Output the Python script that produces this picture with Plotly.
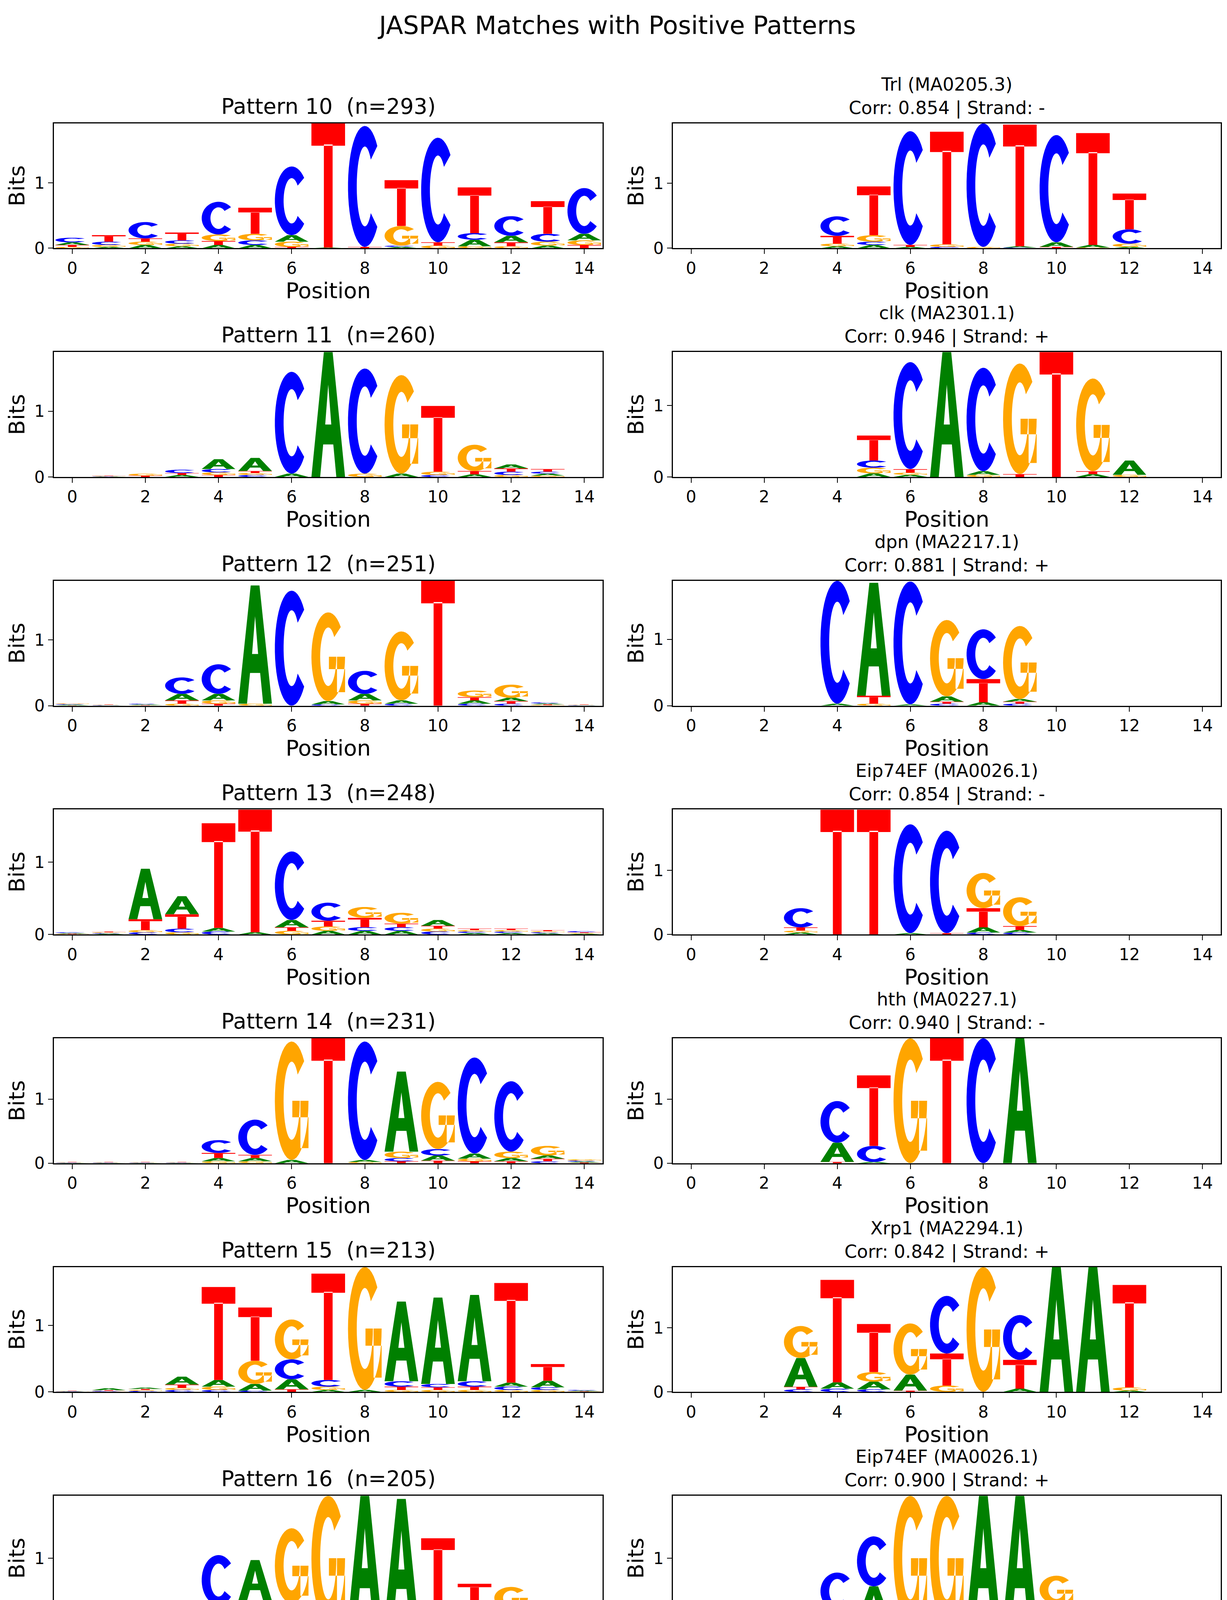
import numpy as np
import plotly.graph_objects as go
from plotly.subplots import make_subplots

LETTERS = ["A", "C", "G", "T"]
COLORS = {"A": "#008000", "C": "#0000ff", "G": "#ffa500", "T": "#ff0000"}
POSITIONS = list(range(15))
X_TICKS = [0, 2, 4, 6, 8, 10, 12, 14]

# ---------- per-panel letter heights (bits) ----------
p10 = {"A": [.04,.02,.05,.03,.05,.05,.10,.01,0,.02,0,.10,.10,.04,.10],
       "C": [.07,.05,.25,.05,.50,.07,1.05,0,1.85,.02,1.6,.10,.30,.12,.70],
       "G": [.02,.03,.05,.04,.10,.10,.08,0,0,.30,.04,.03,.03,.06,.07],
       "T": [.03,.10,.05,.12,.06,.40,.02,1.9,.02,.70,.05,.70,.06,.50,.05]}
m10 = {"A": [0,0,0,0,.03,.05,.02,0,0,.02,.07,.04,.02,0,0],
       "C": [0,0,0,0,.30,.05,1.75,.02,1.9,.01,1.65,0,.22,0,0],
       "G": [0,0,0,0,.04,.10,0,.04,.02,0,0,.01,.05,0,0],
       "T": [0,0,0,0,.12,.75,.03,1.73,0,1.87,.02,1.72,.55,0,0]}
p11 = {"A": [0,.005,0,.03,.15,.20,.05,1.9,0,.05,0,.04,.06,.03,.003],
       "C": [0,.005,0,.05,.05,.03,1.55,0,1.6,0,.03,0,.05,.03,.003],
       "G": [0,.005,.03,0,.04,.03,0,0,.05,1.5,.05,.40,.03,.02,.003],
       "T": [0,.005,.02,.03,.03,.03,0,0,0,0,1.0,.05,.05,.04,.003]}
m11 = {"A": [0,0,0,0,0,.05,.03,1.75,.05,0,0,.04,.20,0,0],
       "C": [0,0,0,0,0,.10,1.5,0,1.45,0,0,0,0,0,0],
       "G": [0,0,0,0,0,.08,.03,0,.03,1.55,0,1.3,.03,0,0],
       "T": [0,0,0,0,0,.35,.05,0,0,.04,1.75,.04,0,0,0]}
p12 = {"A": [.01,.005,.01,.10,.10,1.8,0,.05,.10,.05,0,.05,.05,.015,.005],
       "C": [.01,.005,.01,.25,.45,0,1.75,.02,.35,.03,0,.03,.03,.015,.005],
       "G": [.01,.005,.005,.03,.05,.03,0,1.35,.05,1.05,0,.10,.20,.01,.005],
       "T": [.005,.005,.005,.05,.03,0,0,0,.03,0,1.9,.05,.04,.01,.005]}
m12 = {"A": [0,0,0,0,.03,1.7,.02,.08,.05,.04,0,0,0,0,0],
       "C": [0,0,0,0,1.85,0,1.85,.03,.75,.03,0,0,0,0,0],
       "G": [0,0,0,0,0,.03,0,1.15,0,1.1,0,0,0,0,0],
       "T": [0,0,0,0,0,.12,0,.03,.35,.03,0,0,0,0,0]}
p13 = {"A": [.01,.01,.70,.25,.05,.03,.10,.05,.05,.05,.08,.02,.02,.015,.01],
       "C": [.01,.01,.03,.05,.04,0,.95,.25,.05,.05,.04,.02,.02,.015,.015],
       "G": [.005,.01,.03,.03,0,0,.05,.06,.15,.15,.04,.02,.02,.015,.01],
       "T": [.005,.01,.15,.20,1.45,1.7,.05,.08,.13,.05,.04,.02,.02,.015,.01]}
m13 = {"A": [0,0,0,.03,0,0,.02,0,.08,.04,0,0,0,0,0],
       "C": [0,0,0,.30,0,0,1.7,1.6,.03,.03,0,0,0,0,0],
       "G": [0,0,0,.03,0,0,0,0,.55,.45,0,0,0,0,0],
       "T": [0,0,0,.05,1.95,1.95,0,.02,.30,.06,0,0,0,0,0]}
p14 = {"A": [.005,.005,.005,.005,.05,.05,.05,0,.03,1.25,.08,.08,.05,.05,.015],
       "C": [.005,.005,.005,.005,.20,.55,0,0,1.85,.05,.10,1.5,1.1,.03,.015],
       "G": [.005,.005,.005,.005,.03,.03,1.85,0,.02,.10,1.05,.04,.10,.15,.02],
       "T": [.005,.005,.005,.005,.08,.05,0,1.95,0,.03,.04,.03,.03,.04,.01]}
m14 = {"A": [0,0,0,0,.30,.02,0,0,0,1.95,0,0,0,0,0],
       "C": [0,0,0,0,.65,.25,0,0,1.95,0,0,0,0,0,0],
       "G": [0,0,0,0,0,0,1.95,0,0,0,0,0,0,0,0],
       "T": [0,0,0,0,.02,1.1,0,1.95,0,0,0,0,0,0,0]}
p15 = {"A": [.005,.03,.02,.12,.10,.10,.15,.03,.03,1.2,1.3,1.3,.06,.10,.01],
       "C": [.005,.01,.015,.03,.03,.02,.30,.10,0,.08,.05,.08,.05,.04,.01],
       "G": [.005,.005,.015,.03,.05,.35,.60,.05,1.85,.03,.03,.03,.03,.03,.005],
       "T": [.005,.01,.015,.05,1.4,.80,.04,1.6,0,.05,.04,.05,1.5,.25,.005]}
m15 = {"A": [0,0,0,.45,.10,.12,.25,0,0,.05,1.95,1.95,.02,0,0],
       "C": [0,0,0,.04,.05,.04,0,.90,0,.70,0,0,0,0,0],
       "G": [0,0,0,.50,0,.15,.80,.10,1.95,0,0,0,.05,0,0],
       "T": [0,0,0,.04,1.6,.75,.02,.50,0,.45,0,0,1.6,0,0]}
p16 = {"A": [.01,.005,.005,.10,.02,.65,.03,0,2.0,1.95,.15,.20,.10,.005,.005],
       "C": [.01,.005,0,.03,.80,.05,.25,0,0,0,.02,.03,.06,.005,.005],
       "G": [.005,.005,.005,.04,.03,.25,1.2,2.0,0,0,.10,.06,.35,.005,.005],
       "T": [.005,.005,0,.02,.20,.02,0,0,0,0,1.05,.30,.03,.005,.005]}
m16 = {"A": [0,0,0,0,.07,.55,0,0,2.0,2.0,.20,0,0,0,0],
       "C": [0,0,0,0,.60,.80,0,0,0,0,.04,0,0,0,0],
       "G": [0,0,0,0,.08,0,2.0,2.0,0,0,.45,0,0,0,0],
       "T": [0,0,0,0,.02,0,0,0,0,0,.03,0,0,0,0]}
p17 = {"A": [.005,.005,.005,.02,.15,.05,.05,.20,0,.05,0,0,.40,.04,.015],
       "C": [.005,.005,.005,.01,.05,.10,.10,.03,1.25,0,0,.01,.05,.25,.015],
       "G": [.005,.005,.005,.03,.05,.05,.35,.40,.04,1.45,0,1.9,.05,.04,.015],
       "T": [.005,.01,.005,.01,.03,.85,.03,.05,.05,0,1.95,0,.10,.25,.015]}
m17 = {"A": [0,0,0,0,.03,.03,1.1,0,0,.05,0,.15,.02,0,0],
       "C": [0,0,0,0,.12,.05,.02,1.45,0,0,.15,.03,.03,0,0],
       "G": [0,0,0,0,.05,.45,.10,.03,1.75,0,0,1.15,.30,0,0],
       "T": [0,0,0,0,.65,.15,.03,.10,0,0,1.2,.05,.25,0,0]}
p18 = {"A": [.15,.10,.05,.05,.05,.15,.05,.05,.05,1.85,1.5,.10,.10,.02,.015],
       "C": [.03,.03,0,.15,1.05,.30,.03,.05,0,0,0,.03,.03,.02,.01],
       "G": [.05,.05,0,.05,.03,.05,.03,.08,1.6,0,.05,.05,.05,.02,.015],
       "T": [.10,.20,1.8,.60,.10,.08,.05,.06,0,0,0,.30,.35,.02,.01]}
m18 = {"A": [.85,.35,0,.03,0,.15,0,.15,.05,1.9,1.7,.25,0,0,0],
       "C": [0,0,0,0,1.15,.35,0,0,0,0,0,0,0,0,0],
       "G": [.07,.05,.03,0,0,.03,0,.45,1.6,0,.02,.05,0,0,0],
       "T": [.05,.05,1.7,1.6,.05,.10,0,.05,0,0,0,.02,0,0,0]}
p19 = {"A": [.01,.005,.005,.01,.03,.09,.03,.02,0,1.94,0,1.94,0,.10,.03],
       "C": [.01,.005,.005,.005,.02,.60,.01,.15,2.0,0,.02,.01,1.78,.02,.03],
       "G": [.01,.005,.005,.005,.01,.03,1.83,1.44,0,0,1.74,0,0,.30,.02],
       "T": [.005,.01,.01,.005,.05,.08,0,0,0,0,.03,0,.06,.05,.01]}
m19 = {"A": [0,0,0,0,.30,.02,0,0,0,1.95,0,0,0,0,0],
       "C": [0,0,0,0,.60,.25,0,0,1.95,0,0,0,0,0,0],
       "G": [0,0,0,0,0,0,1.95,0,0,0,0,0,0,0,0],
       "T": [0,0,0,0,.02,1.25,0,1.95,0,0,0,0,0,0,0]}

LEFT_TITLES = ["Pattern 10  (n=293)", "Pattern 11  (n=260)", "Pattern 12  (n=251)",
               "Pattern 13  (n=248)", "Pattern 14  (n=231)", "Pattern 15  (n=213)",
               "Pattern 16  (n=205)", "Pattern 17  (n=193)", "Pattern 18  (n=162)",
               "Pattern 19  (n=141)"]
RIGHT_NAMES = ["Trl (MA0205.3)", "clk (MA2301.1)", "dpn (MA2217.1)", "Eip74EF (MA0026.1)",
               "hth (MA0227.1)", "Xrp1 (MA2294.1)", "Eip74EF (MA0026.1)", "Xbp1 (MA2293.1)",
               "Stat92E (MA0532.2)", "hth (MA0227.1)"]
RIGHT_CORR = ["0.854", "0.946", "0.881", "0.854", "0.940", "0.842", "0.900", "0.886", "0.954", "0.702"]
RIGHT_STRAND = ["-", "+", "+", "-", "-", "+", "+", "+", "+", "-"]
LEFT = [p10, p11, p12, p13, p14, p15, p16, p17, p18, p19]
RIGHT = [m10, m11, m12, m13, m14, m15, m16, m17, m18, m19]

# ---------- glyph outlines in unit box ----------
def arc(cx, cy, rx, ry, a0, a1, n=40):
    t = np.radians(np.linspace(a0, a1, n))
    return list(zip(cx + rx * np.cos(t), cy + ry * np.sin(t)))

def glyph_polys(letter):
    if letter == "T":
        return [[(0, .82), (1, .82), (1, 1), (0, 1)],
                [(.37, 0), (.63, 0), (.63, .83), (.37, .83)]]
    if letter == "A":
        outer = [(0, 0), (.37, 1), (.63, 1), (1, 0), (.74, 0), (.65, .26), (.35, .26), (.26, 0)]
        hole = [(.41, .42), (.5, .74), (.59, .42)][::-1]
        return [outer, hole]
    if letter == "C":
        o = arc(.5, .5, .5, .5, 42, 318)
        i = arc(.5, .5, .24, .33, 318, 42)
        return [o + i]
    if letter == "G":
        o = arc(.5, .5, .5, .5, 42, 360)
        i = [(.74, .5)] + arc(.5, .5, .24, .33, 360, 42)[1:]
        return [o + i, [(.52, .36), (1, .36), (1, .5), (.52, .5)],
                [(.76, .1), (1, .1), (1, .5), (.76, .5)]]

def glyph_path(letter, x0, x1, y0, y1):
    parts = []
    for poly in glyph_polys(letter):
        pts = [(x0 + px * (x1 - x0), y0 + py * (y1 - y0)) for px, py in poly]
        parts.append("M" + "L".join(f"{a:.4f},{b:.5f}" for a, b in pts) + "Z")
    return " ".join(parts)

# ---------- figure ----------
W, H = 3140, 6070
fig = make_subplots(rows=10, cols=2)
FONT = "DejaVu Sans"
col_x = [(130, 1534), (1714, 3116)]
shapes, annotations = [], []
axis_common = dict(ticks="outside", ticklen=12, tickwidth=2, tickcolor="black",
                   showgrid=False, zeroline=False, showline=True, mirror=True,
                   linecolor="black", linewidth=3,
                   tickfont=dict(size=42, family=FONT, color="black"))

for r in range(10):
    top_px = 309 + 588 * r
    bot_px = top_px + 321
    for c in range(2):
        k = r * 2 + c + 1
        data = LEFT[r] if c == 0 else RIGHT[r]
        xa = "xaxis" if k == 1 else f"xaxis{k}"
        ya = "yaxis" if k == 1 else f"yaxis{k}"
        xr = "x" if k == 1 else f"x{k}"
        yr = "y" if k == 1 else f"y{k}"
        totals = [sum(data[L][p] for L in LETTERS) for p in POSITIONS]
        ymax = max(totals)
        for p in POSITIONS:
            stack = sorted([(data[L][p], L) for L in LETTERS])
            base = 0.0
            for h, L in stack:
                if h > 0.004:
                    shapes.append(dict(type="path", xref=xr, yref=yr,
                                       path=glyph_path(L, p - 0.46, p + 0.46, base, base + h),
                                       fillcolor=COLORS[L], line=dict(width=0), layer="above"))
                base += h
        fig.add_trace(go.Scatter(x=POSITIONS, y=totals, mode="markers",
                                 marker=dict(opacity=0), hoverinfo="skip", showlegend=False),
                      row=r + 1, col=c + 1)
        fig.layout[xa].update(domain=[col_x[c][0] / W, col_x[c][1] / W],
                              range=[-0.5, 14.5], tickvals=X_TICKS,
                              title=dict(text="Position", standoff=12,
                                         font=dict(size=56, family=FONT, color="black")),
                              **axis_common)
        fig.layout[ya].update(domain=[1 - bot_px / H, 1 - top_px / H],
                              range=[0, ymax], tickvals=[0, 1],
                              title=dict(text="Bits", standoff=8,
                                         font=dict(size=56, family=FONT, color="black")),
                              **axis_common)
        cx = (col_x[c][0] + col_x[c][1]) / 2 / W
        if c == 0:
            annotations.append(dict(text=LEFT_TITLES[r], x=cx, y=1 - (top_px - 10) / H,
                                    xref="paper", yref="paper", xanchor="center", yanchor="bottom",
                                    showarrow=False, font=dict(size=55, family=FONT, color="black")))
        else:
            txt = f"{RIGHT_NAMES[r]}<br>Corr: {RIGHT_CORR[r]} | Strand: {RIGHT_STRAND[r]}"
            annotations.append(dict(text=txt, x=cx, y=1 - (top_px - 10) / H,
                                    xref="paper", yref="paper", xanchor="center", yanchor="bottom",
                                    showarrow=False, font=dict(size=46, family=FONT, color="black")))

annotations.append(dict(text="JASPAR Matches with Positive Patterns", x=0.5, y=1 - 18 / H,
                        xref="paper", yref="paper", xanchor="center", yanchor="top",
                        showarrow=False, font=dict(size=64, family=FONT, color="black")))

fig.update_layout(width=W, height=H, margin=dict(l=0, r=0, t=0, b=0),
                  plot_bgcolor="white", paper_bgcolor="white",
                  shapes=shapes, annotations=annotations, showlegend=False)
fig.write_html("out.html")
